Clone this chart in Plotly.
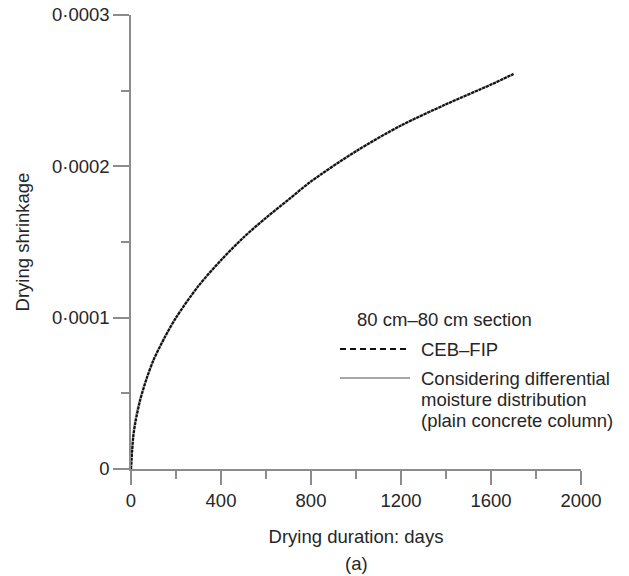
import plotly.graph_objects as go

# Drying duration (days) and drying shrinkage
days = [0, 10, 20, 40, 70, 100, 150, 200, 300, 400, 500, 600, 700, 800, 1000, 1200, 1400, 1600, 1700]
ceb_fip = [0, 2.1e-5, 3.1e-5, 4.5e-5, 6.0e-5, 7.2e-5, 8.7e-5, 1.0e-4, 1.21e-4, 1.38e-4,
           1.53e-4, 1.66e-4, 1.78e-4, 1.90e-4, 2.10e-4, 2.27e-4, 2.41e-4, 2.54e-4, 2.61e-4]
differential = [0, 2.3e-5, 3.3e-5, 4.6e-5, 6.0e-5, 7.2e-5, 8.7e-5, 1.0e-4, 1.21e-4, 1.38e-4,
                1.53e-4, 1.66e-4, 1.78e-4, 1.90e-4, 2.10e-4, 2.27e-4, 2.41e-4, 2.54e-4, 2.61e-4]

x_ticks = [0, 400, 800, 1200, 1600, 2000]
x_tick_labels = ["0", "400", "800", "1200", "1600", "2000"]
y_ticks = [0, 0.0001, 0.0002, 0.0003]
y_tick_labels = ["0", "0·0001", "0·0002", "0·0003"]

FONT = "Liberation Sans, Arial, sans-serif"
AXIS_COLOR = "#8c8c8c"
TEXT_COLOR = "#262626"
FS = 18.5

fig = go.Figure()
fig.add_trace(go.Scatter(x=days, y=differential, mode="lines",
                         line=dict(color="#a8a8a8", width=2.2, shape="spline", smoothing=0.8),
                         showlegend=False))
fig.add_trace(go.Scatter(x=days, y=ceb_fip, mode="lines",
                         line=dict(color="#111111", width=2.2, dash="3px,1px", shape="spline", smoothing=0.8),
                         showlegend=False))

fig.update_layout(
    width=629, height=576,
    margin=dict(l=131, r=48, t=15, b=107),
    paper_bgcolor="white", plot_bgcolor="white",
    font=dict(family=FONT, size=FS, color=TEXT_COLOR),
    showlegend=False,
)

fig.update_xaxes(
    range=[0, 2000], tickvals=x_ticks, ticktext=x_tick_labels, automargin=False,
    showline=True, linecolor=AXIS_COLOR, linewidth=1.5,
    ticks="outside", ticklen=14, tickwidth=1.5, tickcolor=AXIS_COLOR,
    minor=dict(ticks="outside", dtick=200, ticklen=8, tickwidth=1.5, tickcolor=AXIS_COLOR),
    showgrid=False, zeroline=False,
    tickfont=dict(size=FS, color=TEXT_COLOR),
    title=dict(text="Drying duration: days", font=dict(size=FS, color=TEXT_COLOR), standoff=20),
)
fig.update_yaxes(
    range=[0, 0.0003], tickvals=y_ticks, ticktext=y_tick_labels, automargin=False,
    showline=True, linecolor=AXIS_COLOR, linewidth=1.5,
    ticks="outside", ticklen=16, tickwidth=1.5, tickcolor=AXIS_COLOR,
    minor=dict(ticks="outside", dtick=0.00005, ticklen=8, tickwidth=1.5, tickcolor=AXIS_COLOR),
    showgrid=False, zeroline=False,
    tickfont=dict(size=FS, color=TEXT_COLOR),
    title=dict(text="Drying shrinkage", font=dict(size=FS, color=TEXT_COLOR), standoff=17),
)

def px(x):
    return (x - 131) / 450.0

def py(y):
    return (469 - y) / 454.0

ann = dict(xref="paper", yref="paper", showarrow=False, font=dict(size=FS, color=TEXT_COLOR),
           xanchor="left", yanchor="middle")
fig.add_annotation(text="80 cm–80 cm section", x=px(355), y=py(319), **ann)
fig.add_annotation(text="CEB–FIP", x=px(419), y=py(349), **ann)
fig.add_annotation(text="Considering differential", x=px(419), y=py(378), **ann)
fig.add_annotation(text="moisture distribution", x=px(419), y=py(399), **ann)
fig.add_annotation(text="(plain concrete column)", x=px(419), y=py(420), **ann)
fig.add_annotation(text="(a)", x=px(356), y=py(563), xref="paper", yref="paper", showarrow=False,
                   font=dict(size=FS, color=TEXT_COLOR), xanchor="center", yanchor="middle")

fig.add_shape(type="line", xref="paper", yref="paper", x0=px(340), x1=px(410), y0=py(349), y1=py(349),
              line=dict(color="#111111", width=2, dash="6px,4px"))
fig.add_shape(type="line", xref="paper", yref="paper", x0=px(340), x1=px(410), y0=py(378), y1=py(378),
              line=dict(color="#a8a8a8", width=2.2))

fig.write_html("out.html", config={"displayModeBar": False},
               post_script="document.body.style.margin='0px';")
